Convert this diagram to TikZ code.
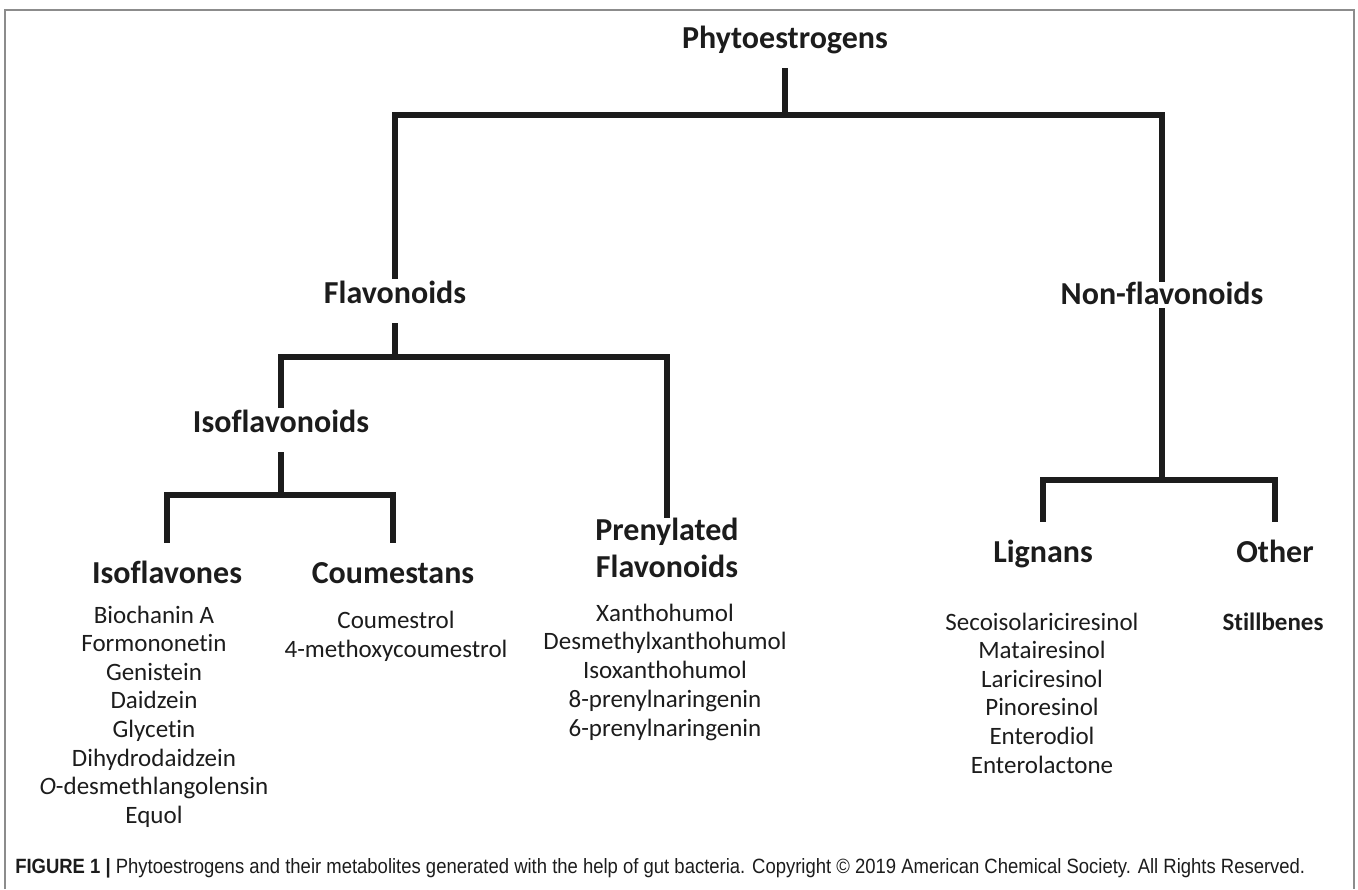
\documentclass[tikz,border=0pt]{standalone}
\usepackage{fontspec}
\setmainfont{Carlito}[Ligatures=NoCommon]
\newfontfamily\didascaliafont{Liberation Sans}
\usepackage{graphicx}
\definecolor{inchiostro}{HTML}{1C1C1C}
\definecolor{grigiocornice}{HTML}{8C8C8C}

\begin{document}
\begin{tikzpicture}[x=0.75pt, y=-0.75pt,
    titolo/.style={font=\bfseries\fontsize{24}{27.75}\selectfont, text=inchiostro, inner sep=0pt, text height=18pt, text depth=15pt, anchor=base},
    foglia/.style={titolo, text height=30pt},
    titolodoppio/.style={font=\bfseries\fontsize{24}{27.75}\selectfont, text=inchiostro, inner sep=0pt, align=center, anchor=north},
    voce/.style={font=\fontsize{18.75}{22}\selectfont, text=inchiostro, inner sep=0pt, anchor=base},
    ramo/.style={draw=inchiostro, line width=4.5pt, line join=miter}]

\useasboundingbox (0,0) rectangle (1358,889);

% --- Cornice ---
\draw[grigiocornice, line width=1.5pt] (5,889) -- (5,10) -- (1354,10) -- (1354,889);

% --- Primo livello ---
\node[titolo] (phyto) at (785,48) {Phytoestrogens};
\coordinate (nodo0) at (785,115);
\node[titolo] (flav) at (395,303) {Flavonoids};
\node[titolo, text height=16.5pt, text depth=3pt] (nonflav) at (1162,304) {Non-flavonoids};
\draw[ramo] (phyto.south) -- (nodo0);
\draw[ramo] (flav.north) |- (nodo0) -| (nonflav.north);

% --- Flavonoidi ---
\coordinate (nodo1) at (395,357);
\node[titolo] (isoflav) at (281,432) {Isoflavonoids};
\node[titolodoppio] (pren) at (667,518) {Prenylated\\Flavonoids};
\draw[ramo] (flav.south) -- (nodo1);
\draw[ramo] (isoflav.north) |- (nodo1) -| (pren.north);

% --- Isoflavonoidi ---
\coordinate (nodo2) at (281,495);
\node[foglia] (isoflavoni) at (167,583) {Isoflavones};
\node[foglia] (cumestani) at (393,583) {Coumestans};
\draw[ramo] (isoflav.south) -- (nodo2);
\draw[ramo] (isoflavoni.north) |- (nodo2) -| (cumestani.north);

% --- Non flavonoidi ---
\coordinate (nodo3) at (1162,480);
\node[foglia] (lignani) at (1043,562) {Lignans};
\node[foglia] (altro) at (1275,562) {Other};
\draw[ramo] (nonflav.south) -- (nodo3);
\draw[ramo] (lignani.north) |- (nodo3) -| (altro.north);

% --- Elenchi dei composti ---
\foreach \nome [count=\i] in {Biochanin A, Formononetin, Genistein, Daidzein, Glycetin, Dihydrodaidzein, {\textit{O}-desmethlangolensin}, Equol} {
    \node[voce] (iso-\i) at (154,{623+28.6*(\i-1)}) {\nome};
}
\foreach \nome [count=\i] in {Coumestrol, 4-methoxycoumestrol} {
    \node[voce] (cum-\i) at (396,{628+29.5*(\i-1)}) {\nome};
}
\foreach \nome [count=\i] in {Xanthohumol, Desmethylxanthohumol, Isoxanthohumol, 8-prenylnaringenin, 6-prenylnaringenin} {
    \node[voce] (pren-\i) at (665,{621+28.8*(\i-1)}) {\nome};
}
\foreach \nome [count=\i] in {Secoisolariciresinol, Matairesinol, Lariciresinol, Pinoresinol, Enterodiol, Enterolactone} {
    \node[voce] (lig-\i) at (1042,{630+28.6*(\i-1)}) {\nome};
}
\node[voce, font=\bfseries\fontsize{18.75}{22}\selectfont] (stilbeni) at (1273,630) {Stillbenes};

% --- Didascalia ---
\node[anchor=base west, inner sep=0pt, text=inchiostro, font=\didascaliafont\fontsize{15.5}{18}\selectfont] (didascalia) at (15,873)
    {\resizebox{967.5pt}{\height}{\textbf{FIGURE 1 |} Phytoestrogens and their metabolites generated with the help of gut bacteria. Copyright © 2019 American Chemical Society. All Rights Reserved.}};

\end{tikzpicture}
\end{document}
